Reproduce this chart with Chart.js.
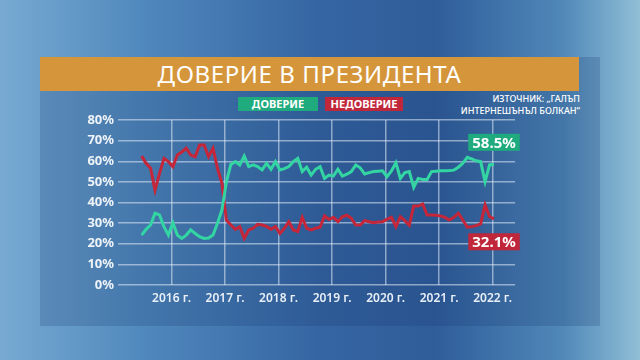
<!DOCTYPE html>
<html lang="bg">
<head>
<meta charset="utf-8">
<script src="https://cdn.jsdelivr.net/npm/chart.js@4.4.1/dist/chart.umd.min.js"></script>
<style>
    html, body { margin: 0; padding: 0; }
    body {
        width: 640px; height: 360px; overflow: hidden; position: relative;
        font-family: "Noto Sans", sans-serif;
        background: linear-gradient(90deg, #78aad2 0%, #5089bd 22%, #3565a2 50%, #2f5d9a 68%, #5088b9 88%, #90bfd6 100%);
    }
    #panel { position: absolute; left: 40px; top: 57px; width: 560px; height: 269px; background: rgba(22, 52, 104, 0.2); }
    #title {
        position: absolute; left: 40px; top: 57px; width: 539px; height: 34px;
        background: #d5963b; color: #fff; font-size: 24px; line-height: 34px;
        text-align: center; font-weight: 400; letter-spacing: 0.6px;
    }
    .tag {
        position: absolute; top: 97px; height: 14px; line-height: 14px;
        font-size: 11px; font-weight: 700; color: #fff; text-align: center;
    }
    #source {
        position: absolute; right: 60px; top: 93px; font-size: 9px; line-height: 12px;
        color: #fff; text-align: right; font-weight: 500;
    }
    #chartBox { position: absolute; left: 0; top: 0; width: 640px; height: 360px; }
</style>
</head>
<body>
<div id="panel"></div>
<div id="title">ДОВЕРИЕ В ПРЕЗИДЕНТА</div>
<div class="tag" style="left:238px;width:80px;background:#1fab7d;">ДОВЕРИЕ</div>
<div class="tag" style="left:325px;width:78px;background:#c1273b;">НЕДОВЕРИЕ</div>
<div id="source">ИЗТОЧНИК: „ГАЛЪП<br>ИНТЕРНЕШЪНЪЛ БОЛКАН“</div>
<div id="chartBox"><canvas id="trustChart"></canvas></div>

<script>
// monthly surveys, June 2015 - January 2022
const months = [
    "2015-06", "2015-07", "2015-08", "2015-09", "2015-10", "2015-11", "2015-12",
    "2016-01", "2016-02", "2016-03", "2016-04", "2016-05", "2016-06", "2016-07", "2016-08", "2016-09", "2016-10", "2016-11", "2016-12",
    "2017-01", "2017-02", "2017-03", "2017-04", "2017-05", "2017-06", "2017-07", "2017-08", "2017-09", "2017-10", "2017-11", "2017-12",
    "2018-01", "2018-02", "2018-03", "2018-04", "2018-05", "2018-06", "2018-07", "2018-08", "2018-09", "2018-10", "2018-11", "2018-12",
    "2019-01", "2019-02", "2019-03", "2019-04", "2019-05", "2019-06", "2019-07", "2019-08", "2019-09", "2019-10", "2019-11", "2019-12",
    "2020-01", "2020-02", "2020-03", "2020-04", "2020-05", "2020-06", "2020-07", "2020-08", "2020-09", "2020-10", "2020-11", "2020-12",
    "2021-01", "2021-02", "2021-03", "2021-04", "2021-05", "2021-06", "2021-07", "2021-08", "2021-09", "2021-10", "2021-11", "2021-12",
    "2022-01"
];

const trust = [
    24.2, 27, 29.1, 34.8, 34, 28.3, 24.2,
    30.2, 24.2, 22.6, 24.2, 26.7, 25, 23.4, 22.6, 22.8, 24.2, 29.9, 36.4,
    50, 58.5, 59.8, 58.2, 62.5, 57.4, 58.2, 57.4, 55.8, 59, 56.1, 59.8,
    55.8, 56.4, 57.4, 59.8, 61.4, 55, 57.1, 53.3, 56.1, 57.4, 51.7, 53.3,
    52.8, 56.1, 52.8, 53.7, 55, 58.2, 56.8, 53.8, 54.5, 55, 55.2, 55.4,
    52.5, 55.3, 59.3, 51.7, 54.5, 55, 47.3, 51.7, 51.2, 51.2, 55, 55.2,
    55.4, 55.4, 55.5, 55.7, 57.1, 59, 61.9, 61.1, 60.2, 59.8, 50.1, 58.2,
    58.5
];

const distrust = [
    62.5, 59, 56.6, 46, 54, 61.4, 59.8,
    57.4, 63, 64.5, 66.3, 63, 62.2, 67.9, 67.9, 62.2, 66.3, 56.6, 49.3,
    31.5, 29.1, 27, 28.3, 22.6, 26.7, 27.5, 29.4, 29.1, 28.4, 27, 28.3,
    25, 27.5, 30.7, 26.7, 25.9, 32.8, 27.5, 26.7, 27.5, 28, 33.5, 31.8,
    32.8, 30.7, 33.1, 33.9, 32.3, 29.1, 29.1, 31.2, 30.7, 30.2, 30.5, 30.7,
    31.8, 32.8, 28.3, 33.1, 31.2, 29, 38.3, 38.3, 39.3, 33.9, 33.9, 33.8,
    33.5, 32.8, 31.5, 32.8, 34.8, 31.5, 28, 28.3, 28.8, 29.6, 38.8, 33.1,
    32.1
];

const yearTicks = [2016, 2017, 2018, 2019, 2020, 2021, 2022];
const endLabels = ["58.5%", "32.1%"];

// "2016-03" -> position on the year axis
function toYear(m) {
    const [y, mo] = m.split("-").map(Number);
    return y + (mo - 0.7) / 12;
}

const endLabelPlugin = {
    id: "endLabelPlugin",
    afterDatasetsDraw(chart) {
        const ctx = chart.ctx;
        chart.data.datasets.forEach((ds, i) => {
            const pts = chart.getDatasetMeta(i).data;
            const last = pts[pts.length - 1];
            ctx.save();
            ctx.font = 'bold 15px "Noto Sans", sans-serif';
            const w = ctx.measureText(ds.endLabel).width + 8;
            const h = 17;
            const cy = last.y + ds.labelShift;
            ctx.fillStyle = ds.tagColor;
            ctx.fillRect(last.x - w / 2, cy - h / 2, w, h);
            ctx.fillStyle = "#fff";
            ctx.textAlign = "center";
            ctx.textBaseline = "middle";
            ctx.fillText(ds.endLabel, last.x, cy + 1);
            ctx.restore();
        });
    }
};

Chart.defaults.font.family = '"Noto Sans", sans-serif';

const ctx = document.getElementById("trustChart").getContext("2d");
new Chart(ctx, {
    type: "line",
    data: {
        datasets: [{
            label: "ДОВЕРИЕ",
            data: months.map((m, i) => ({x: toYear(m), y: trust[i]})),
            borderColor: "#33d6a2",
            borderWidth: 3,
            pointRadius: 0,
            tension: 0,
            endLabel: endLabels[0],
            tagColor: "#1fab7d",
            labelShift: -22
        }, {
            label: "НЕДОВЕРИЕ",
            data: months.map((m, i) => ({x: toYear(m), y: distrust[i]})),
            borderColor: "#c62639",
            borderWidth: 3,
            pointRadius: 0,
            tension: 0,
            endLabel: endLabels[1],
            tagColor: "#c1273b",
            labelShift: 23
        }]
    },
    options: {
        responsive: true,
        maintainAspectRatio: false,
        animation: false,
        layout: { padding: { left: 40, right: 125, top: 120, bottom: 55 } },
        plugins: {
            legend: { display: false },
            tooltip: { enabled: false }
        },
        scales: {
            x: {
                type: "linear",
                min: 2015,
                max: 2022.417,
                afterBuildTicks: s => { s.ticks = yearTicks.map(v => ({value: v})); },
                afterFit: s => { s.height = 20; },
                border: { display: false },
                grid: { color: "rgba(225,235,245,0.55)", lineWidth: 1.5, drawTicks: false },
                ticks: {
                    padding: 6,
                    color: "#e8eff7",
                    font: { size: 12, weight: 600 },
                    callback: v => v + " г."
                }
            },
            y: {
                min: 0,
                max: 80,
                afterFit: s => { s.width = 78; },
                border: { display: false },
                grid: { color: "rgba(225,235,245,0.55)", lineWidth: 1.5, drawTicks: false },
                ticks: {
                    stepSize: 10,
                    padding: 4,
                    color: "#eef3f8",
                    font: { size: 13, weight: 700 },
                    callback: v => v + "%"
                }
            }
        }
    },
    plugins: [endLabelPlugin]
});
</script>
</body>
</html>
